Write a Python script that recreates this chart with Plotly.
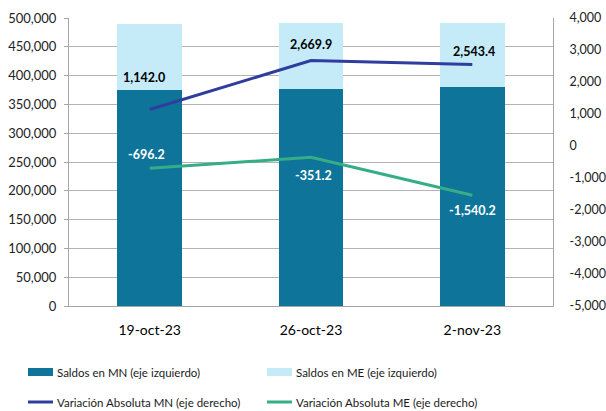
import plotly.graph_objects as go

categories = ["19-oct-23", "26-oct-23", "2-nov-23"]
saldos_mn = [375400, 376200, 380500]
saldos_me = [114300, 115000, 110500]
var_mn = [1142.0, 2669.9, 2543.4]
var_me = [-696.2, -351.2, -1540.2]
right_ticks = [4000, 3000, 2000, 1000, 0, -1000, -2000, -3000, -4000, -5000]
right_tick_labels = ["4,000", "3,000", "2,000", "1,000", "0", "-1,000", "-2,000", "-3,000", "-4,000", "-5,000"]

mn_label_shift = [32, 16, 13]
me_label_shift = [14, -18, -15]
mn_label_dx = [-6, 0, 2]
me_label_dx = [-3, 2, 0]

C_MN = "#0E7499"
C_ME = "#C5EAF8"
C_LMN = "#2F3E9E"
C_LME = "#35AD86"
FONT = "Lato"

fig = go.Figure()
fig.add_trace(go.Bar(x=categories, y=saldos_mn, name="Saldos en MN (eje izquierdo)",
                     marker=dict(color=C_MN, line=dict(width=0)), width=0.4, showlegend=False))
fig.add_trace(go.Bar(x=categories, y=saldos_me, name="Saldos en ME (eje izquierdo)",
                     marker=dict(color=C_ME, line=dict(width=0)), width=0.4, showlegend=False))
fig.add_trace(go.Scatter(x=categories, y=var_mn, yaxis="y2", mode="lines",
                         name="Variación Absoluta MN (eje derecho)",
                         line=dict(color=C_LMN, width=3), showlegend=False))
fig.add_trace(go.Scatter(x=categories, y=var_me, yaxis="y2", mode="lines",
                         name="Variación Absoluta ME (eje derecho)",
                         line=dict(color=C_LME, width=3), showlegend=False))

def fmt(v):
    s = f"{abs(v):,.1f}"
    return ("-" + s) if v < 0 else s

annotations = []
for c, v, s, dx in zip(categories, var_mn, mn_label_shift, mn_label_dx):
    annotations.append(dict(x=c, y=v, xref="x", yref="y2", text=fmt(v), showarrow=False,
                            yshift=s, xshift=dx, font=dict(family=FONT, size=12.5, color="#000000", weight="bold")))
for c, v, s, dx in zip(categories, var_me, me_label_shift, me_label_dx):
    annotations.append(dict(x=c, y=v, xref="x", yref="y2", text=fmt(v), showarrow=False,
                            yshift=s, xshift=dx, font=dict(family=FONT, size=12.5, color="#FFFFFF", weight="bold")))

# manual legend
legend_items = [
    ("Saldos en MN (eje izquierdo)", C_MN, "box", 28, 372),
    ("Saldos en ME (eje izquierdo)", C_ME, "box", 267, 372),
    ("Variación Absoluta MN (eje derecho)", C_LMN, "line", 28, 402),
    ("Variación Absoluta ME (eje derecho)", C_LME, "line", 267, 402),
]
W, H = 606, 411
L, R, T, B = 69, 53, 18, 105
pw, ph = W - L - R, H - T - B
def px(x):
    return (x - L) / pw
def py(y):
    return 1 - (y - T) / ph
shapes = []
for text, col, kind, x0, yc in legend_items:
    if kind == "box":
        shapes.append(dict(type="rect", xref="paper", yref="paper", x0=px(x0), x1=px(x0 + 25),
                           y0=py(yc + 4), y1=py(yc - 4), fillcolor=col, line=dict(width=0)))
    else:
        shapes.append(dict(type="line", xref="paper", yref="paper", x0=px(x0), x1=px(x0 + 25),
                           y0=py(yc), y1=py(yc), line=dict(color=col, width=3)))
    annotations.append(dict(x=px(x0 + 27), y=py(yc), xref="paper", yref="paper", text=text,
                            showarrow=False, xanchor="left", yanchor="middle",
                            font=dict(family=FONT, size=11.5, color="#1a1a1a")))

fig.update_layout(
    width=W, height=H,
    margin=dict(l=L, r=R, t=T, b=B, pad=0, autoexpand=False),
    barmode="stack", bargap=0.6,
    plot_bgcolor="white", paper_bgcolor="white",
    font=dict(family=FONT, size=13, color="#222222"),
    xaxis=dict(showgrid=False, showline=True, linecolor="#a6a6a6", linewidth=1, automargin=False,
               ticks="", tickfont=dict(size=14, color="#000000"), ticklabelstandoff=11),
    yaxis=dict(range=[0, 500000], dtick=50000, tickformat=",d", showgrid=True, automargin=False,
               gridcolor="#b3b3b3", gridwidth=1, showline=True, linecolor="#a6a6a6",
               ticks="outside", ticklen=4, tickcolor="#a6a6a6", zeroline=False,
               ticklabelstandoff=5, tickfont=dict(size=13, color="#222222")),
    yaxis2=dict(range=[-5000, 4000], tickmode="array", tickvals=right_ticks, ticktext=right_tick_labels,
                overlaying="y", side="right",
                showgrid=False, showline=True, linecolor="#a6a6a6", ticks="",
                zeroline=False, tickfont=dict(size=12.5, color="#222222"),
                ticklabelstandoff=13, automargin=False),
    annotations=annotations, shapes=shapes, showlegend=False,
)
fig.write_html("out.html", config={"displayModeBar": False},
               post_script="document.body.style.margin='0';document.body.style.overflow='hidden';")
